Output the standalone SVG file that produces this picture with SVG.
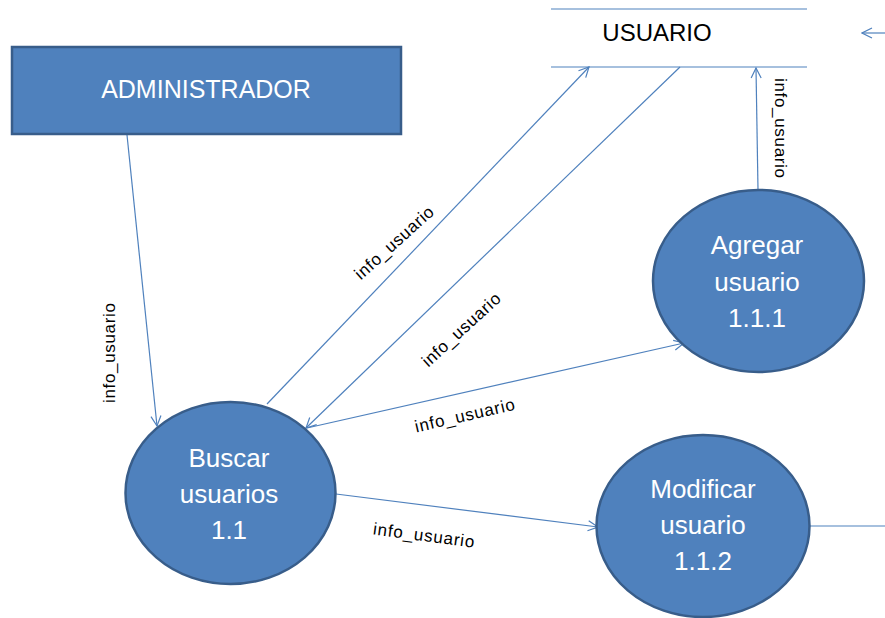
<svg xmlns="http://www.w3.org/2000/svg" width="885" height="618" viewBox="0 0 885 618">
<defs>
<marker id="arr" viewBox="0 0 12 12" refX="11" refY="6" markerWidth="12" markerHeight="12" markerUnits="userSpaceOnUse" orient="auto">
<path d="M1,1 L11,6 L1,11" fill="none" stroke="#4F81BD" stroke-width="1.2"/>
</marker>
</defs>
<style>
.node{fill:#4F81BD;stroke:#385D8A;stroke-width:2.5}
.nt{font-family:"Liberation Sans",Arial,sans-serif;fill:#FFFFFF;text-anchor:middle}
.ln{stroke:#4F81BD;stroke-width:1.2;fill:none}
.lbl{font-family:"Liberation Sans",Arial,sans-serif;font-size:17px;fill:#000000;text-anchor:middle}
</style>
<rect width="885" height="618" fill="#FFFFFF"/>
<g id="connectors">
<line class="ln" x1="127" y1="135" x2="157" y2="426" marker-end="url(#arr)"/>
<line class="ln" x1="267" y1="404" x2="589" y2="67" marker-end="url(#arr)"/>
<line class="ln" x1="680" y1="67" x2="306" y2="428" marker-end="url(#arr)"/>
<line class="ln" x1="307" y1="428" x2="684" y2="343" marker-end="url(#arr)"/>
<line class="ln" x1="336" y1="494" x2="598" y2="527" marker-end="url(#arr)"/>
<line class="ln" x1="758" y1="190" x2="756" y2="68" marker-end="url(#arr)"/>
<line class="ln" x1="810" y1="526" x2="885" y2="526"/>
<line class="ln" x1="890" y1="33" x2="862" y2="33" marker-end="url(#arr)"/>
<text class="lbl" transform="translate(115,353) rotate(-90)" textLength="100">info_usuario</text>
<text class="lbl" transform="translate(398,247) rotate(-42)" textLength="100">info_usuario</text>
<text class="lbl" transform="translate(465,334) rotate(-42.5)" textLength="100">info_usuario</text>
<text class="lbl" transform="translate(466,421) rotate(-13)" textLength="102">info_usuario</text>
<text class="lbl" transform="translate(423,541) rotate(7.5)" textLength="102">info_usuario</text>
<text class="lbl" transform="translate(775,128) rotate(90)" textLength="100">info_usuario</text>
</g>
<g id="administrador">
<rect class="node" x="12" y="47" width="389" height="87"/>
<text class="nt" x="206" y="98" font-size="25">ADMINISTRADOR</text>
</g>
<g id="usuario">
<line class="ln" x1="551" y1="9" x2="807" y2="9"/>
<line class="ln" x1="551" y1="67" x2="807" y2="67"/>
<text x="657" y="41" font-family="'Liberation Sans',Arial,sans-serif" font-size="24" fill="#000000" text-anchor="middle">USUARIO</text>
</g>
<g id="buscar">
<ellipse class="node" cx="230.5" cy="493" rx="105" ry="91"/>
<text class="nt" font-size="26"><tspan x="229" y="467">Buscar</tspan><tspan x="229" y="503">usuarios</tspan><tspan x="229" y="539">1.1</tspan></text>
</g>
<g id="agregar">
<ellipse class="node" cx="758.5" cy="281" rx="105.5" ry="91"/>
<text class="nt" font-size="26"><tspan x="757" y="254">Agregar</tspan><tspan x="757" y="291">usuario</tspan><tspan x="757" y="327">1.1.1</tspan></text>
</g>
<g id="modificar">
<ellipse class="node" cx="703" cy="526" rx="106.5" ry="91"/>
<text class="nt" font-size="26"><tspan x="703" y="498">Modificar</tspan><tspan x="703" y="534">usuario</tspan><tspan x="703" y="570">1.1.2</tspan></text>
</g>
</svg>
